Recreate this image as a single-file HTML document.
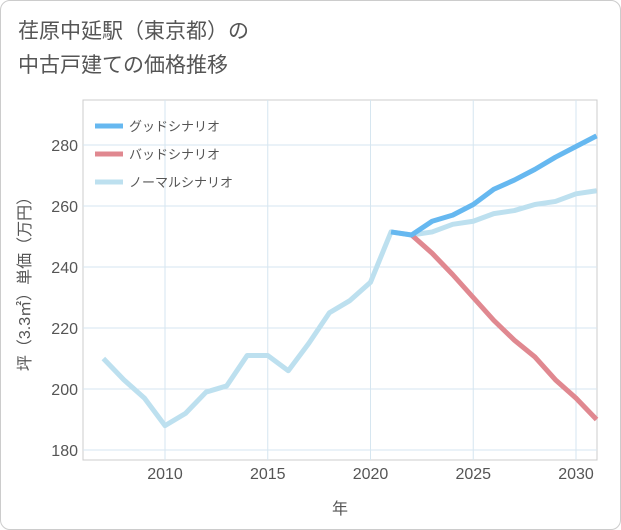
<!DOCTYPE html>
<html><head><meta charset="utf-8"><style>
body{margin:0;background:#fff;font-family:"Liberation Sans","Noto Sans CJK JP",sans-serif;}
#card{position:absolute;left:0;top:0;width:619px;height:528px;border:1px solid #ccc;border-radius:10px;background:#fff;}
#title{position:absolute;left:17px;top:14px;font-size:21px;line-height:34px;color:#555;}
</style></head><body>
<div id="card">
<div id="title">荏原中延駅（東京都）の<br>中古戸建ての価格推移</div>
<svg id="chart" width="621" height="530" style="position:absolute;left:-1px;top:-1px"></svg>
</div>
<script>
const years=[2007,2008,2009,2010,2011,2012,2013,2014,2015,2016,2017,2018,2019,2020,2021,2022,2023,2024,2025,2026,2027,2028,2029,2030,2031];
const normal=[210,203,197,188,192,199,201,211,211,206,215,225,229,235,251.5,250.5,251.5,254,255,257.5,258.5,260.5,261.5,264,265];
const goodYears=[2021,2022,2023,2024,2025,2026,2027,2028,2029,2030,2031];
const good=[251.5,250.5,255,257,260.5,265.5,268.5,272,276,279.5,283];
const badYears=[2022,2023,2024,2025,2026,2027,2028,2029,2030,2031];
const bad=[250.5,244.5,237.5,230,222.5,216,210.5,203,197,190];
const xTicks=[2010,2015,2020,2025,2030];
const yTicks=[180,200,220,240,260,280];
const L=83,R=597,T=100,B=460;
const x=v=>165+(v-2010)*20.55;
const y=v=>450-(v-180)*3.05;
const svg=document.getElementById('chart');
const NS='http://www.w3.org/2000/svg';
function mk(t,a,p){const e=document.createElementNS(NS,t);for(const k in a)e.setAttribute(k,a[k]);(p||svg).appendChild(e);return e;}
const frame=mk('rect',{x:L,y:T,width:R-L,height:B-T,fill:'none',stroke:'#ccc'});


xTicks.forEach(v=>{
 const g=mk('line',{x1:x(v),x2:x(v),y1:T,y2:B,stroke:'#d6e6f0'});
 
 
 const t=mk('text',{x:x(v),y:479,'text-anchor':'middle','font-size':16,fill:'#555'});t.textContent=v;
 
 
});
yTicks.forEach(v=>{
 const g=mk('line',{x1:L,x2:R,y1:y(v),y2:y(v),stroke:'#d6e6f0'});
 
 
 const t=mk('text',{x:78,y:y(v)+6,'text-anchor':'end','font-size':16,fill:'#555'});t.textContent=v;
 
 
});
const xt=mk('text',{x:340,y:514,'text-anchor':'middle','font-size':16,fill:'#555'});xt.textContent='年';


const yt=mk('text',{x:0,y:0,'text-anchor':'middle','font-size':16,fill:'#555',transform:'translate(30,280) rotate(-90)'});yt.textContent='坪（3.3㎡）単価（万円）';


function line(xs,vs,c,name){
 const p=mk('polyline',{points:xs.map((v,i)=>x(v)+','+y(vs[i])).join(' '),fill:'none',stroke:c,'stroke-width':5,'stroke-linejoin':'round'});
 
 
}
line(years,normal,'#bde0ef','normal-scenario-line');
line(badYears,bad,'#e08890','bad-scenario-line');
line(goodYears,good,'#66b8f0','good-scenario-line');
[['グッドシナリオ','#66b8f0'],['バッドシナリオ','#e08890'],['ノーマルシナリオ','#bde0ef']].forEach((d,i)=>{
 const yy=126+i*28;
 const l=mk('line',{x1:95,x2:123,y1:yy,y2:yy,stroke:d[1],'stroke-width':5});
 
 
 const t=mk('text',{x:129,y:yy+5,'font-size':13,fill:'#555'});t.textContent=d[0];
 
 
});
</script>
</body></html>
